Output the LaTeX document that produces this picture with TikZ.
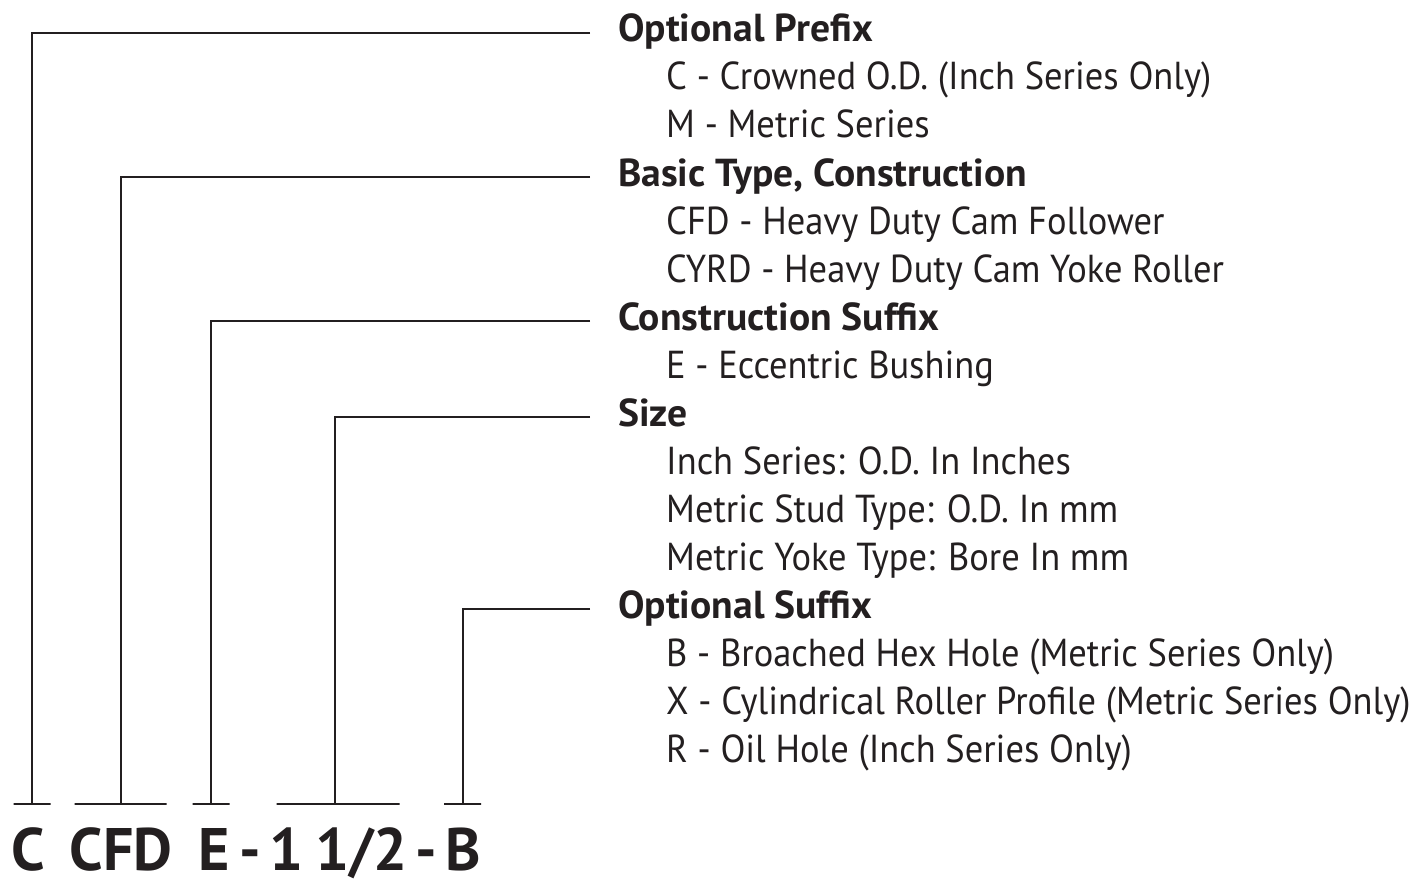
\documentclass[tikz,border=0pt]{standalone}
\usepackage{fontspec}
\setmainfont{PT Sans}
\newfontfamily\descfont[FakeStretch=0.935]{PT Sans}
\newfontfamily\headfont[FakeStretch=1.015]{PT Sans}
\definecolor{ink}{HTML}{231F20}
\begin{document}
\begin{tikzpicture}[x=1pt,y=-1pt,
  every node/.style={text=ink},
  head/.style={anchor=base west,inner xsep=28pt,inner ysep=0pt,font=\headfont\fontsize{39}{39}\selectfont\bfseries},
  desc/.style={anchor=base west,inner sep=0pt,font=\descfont\fontsize{39}{39}\selectfont},
  code/.style={anchor=base,inner xsep=1pt,inner ysep=0pt,text height=43pt,text depth=2pt,font=\fontsize{60}{60}\selectfont\bfseries},
  bar/.style={draw=ink,line width=2pt,inner sep=0pt,minimum height=0pt,text height=0pt,text depth=0pt},
  conn/.style={draw=ink,line width=2pt}]
\useasboundingbox (0,0) rectangle (1411,880);
% headers and descriptions
\node[head] (h1) at (590,42) {Optional Prefix};
\node[desc] (d11) at (666,90) {C - Crowned O.D. (Inch Series Only)};
\node[desc] (d12) at (666,138) {M - Metric Series};
\node[head] (h2) at (590,186) {Basic Type, Construction};
\node[desc] (d21) at (666,234) {CFD - Heavy Duty Cam Follower};
\node[desc] (d22) at (666,282) {CYRD - Heavy Duty Cam Yoke Roller};
\node[head] (h3) at (590,330) {Construction Suffix};
\node[desc] (d31) at (666,378) {E - Eccentric Bushing};
\node[head] (h4) at (590,426) {Size};
\node[desc] (d41) at (666,474) {Inch Series: O.D. In Inches};
\node[desc] (d42) at (666,522) {Metric Stud Type: O.D. In mm};
\node[desc] (d43) at (666,570) {Metric Yoke Type: Bore In mm};
\node[head] (h5) at (590,618) {Optional Suffix};
\node[desc] (d51) at (666,666) {B - Broached Hex Hole (Metric Series Only)};
\node[desc] (d52) at (666,714) {X - Cylindrical Roller Profile (Metric Series Only)};
\node[desc] (d53) at (666,762) {R - Oil Hole (Inch Series Only)};
% bars
\node[bar,minimum width=37pt] (b1) at (32,804) {};
\node[bar,minimum width=92pt] (b2) at (120.5,804) {};
\node[bar,minimum width=37pt] (b3) at (211,804) {};
\node[bar,minimum width=123pt] (b4) at (338,804) {};
\node[bar,minimum width=37pt] (b5) at (462.5,804) {};
% connectors
\draw[conn] ([yshift=9pt]h1.base west) -| (b1.center);
\draw[conn] ([yshift=9pt]h2.base west) -| (b2.center);
\draw[conn] ([yshift=9pt]h3.base west) -| (b3.center);
\draw[conn] ([yshift=9pt]h4.base west) -| ([xshift=-3pt]b4.center);
\draw[conn] ([yshift=9pt]h5.base west) -| (b5.center);
% codes
\node[code] (c1) at (28,870) {C};
\node[code] (c2) at (121,870) {CFD};
\node[code] (c3) at (214,870) {E};
\node[code] (c4) at (250.5,870) {-};
\node[code] (c5) at (338.5,870) {1\hspace{12pt}1/2};
\node[code] (c6) at (426,870) {-};
\node[code] (c7) at (463,870) {B};
\end{tikzpicture}
\end{document}
